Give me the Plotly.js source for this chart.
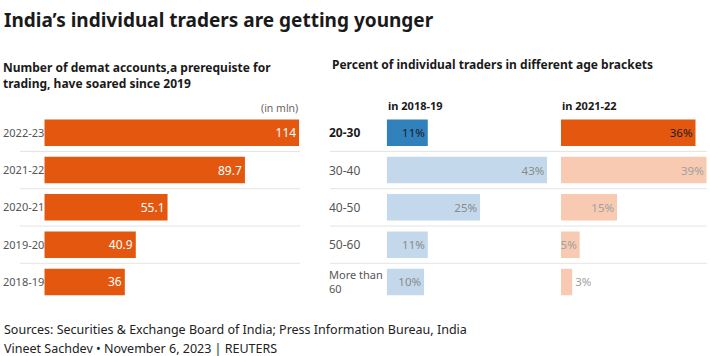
<!DOCTYPE html>
<html>
<head>
<meta charset="utf-8">
<script src="https://cdn.plot.ly/plotly-3.0.1.min.js"></script>
<style>
  html, body { margin: 0; padding: 0; background: #fff; }
  #chart { width: 710px; height: 356px; }
</style>
</head>
<body>
<div id="chart"></div>
<script>
// ---- data ----
const years = ['2022-23', '2021-22', '2020-21', '2019-20', '2018-19'];
const accounts = [114, 89.7, 55.1, 40.9, 36];
const ageBrackets = ['20-30', '30-40', '40-50', '50-60', 'More than 60'];
const ageLabels = ['20-30', '30-40', '40-50', '50-60', 'More than<br>60'];
const pct2018 = [11, 43, 25, 11, 10];
const pct2022 = [36, 39, 15, 5, 3];
const colHeaders = ['in 2018-19', 'in 2021-22'];

// ---- style ----
const FONT = 'Noto Sans, Open Sans, sans-serif';
const W = 710, H = 356;
const px = v => v / W;
const py = v => 1 - v / H;
const ORANGE = '#e4570f', PEACH = '#f8cab2', BLUE = '#3181bd', LIGHTBLUE = '#c3d9eb';

const yDomain = [py(300.6), py(114.1)];

const traces = [
  {
    type: 'bar', orientation: 'h', x: accounts, y: years,
    xaxis: 'x', yaxis: 'y',
    marker: { color: ORANGE },
    texttemplate: '%{x}', textposition: 'inside', insidetextanchor: 'end',
    constraintext: 'none', textangle: 0,
    textfont: { family: FONT, size: 12, color: '#ffffff' },
    hoverinfo: 'skip'
  },
  {
    type: 'bar', orientation: 'h', x: pct2018, y: ageBrackets,
    xaxis: 'x2', yaxis: 'y2',
    marker: { color: pct2018.map((v, i) => i === 0 ? BLUE : LIGHTBLUE) },
    texttemplate: '%{x}%', textposition: 'inside', insidetextanchor: 'end',
    constraintext: 'none', textangle: 0,
    textfont: { family: FONT, size: 11.5, color: pct2018.map((v, i) => i === 0 ? '#1c1c1c' : '#8a8a8a') },
    hoverinfo: 'skip'
  },
  {
    type: 'bar', orientation: 'h', x: pct2022, y: ageBrackets,
    xaxis: 'x3', yaxis: 'y2',
    marker: { color: pct2022.map((v, i) => i === 0 ? ORANGE : PEACH) },
    texttemplate: '%{x}%',
    textposition: pct2022.map((v, i) => i === pct2022.length - 1 ? 'outside' : 'inside'),
    insidetextanchor: 'end',
    constraintext: 'none', cliponaxis: false, textangle: 0,
    textfont: { family: FONT, size: 11.5, color: pct2022.map((v, i) => i === 0 ? '#1c1c1c' : '#a0a0a0') },
    hoverinfo: 'skip'
  }
];

const shapes = [];
for (let i = 0; i < years.length - 1; i++) {
  shapes.push({ type: 'line', xref: 'paper', yref: 'y', x0: px(20), x1: px(300), y0: i + 0.5, y1: i + 0.5,
    line: { color: '#e4e4e4', width: 1 }, layer: 'below' });
}
for (let i = 0; i < ageBrackets.length - 1; i++) {
  shapes.push({ type: 'line', xref: 'paper', yref: 'y2', x0: px(330), x1: px(707), y0: i + 0.5, y1: i + 0.5,
    line: { color: '#e4e4e4', width: 1 }, layer: 'below' });
}

const annotations = [
  { text: '<b>India’s individual traders are getting younger</b>', x: px(2), y: py(20), xanchor: 'left', yanchor: 'middle',
    font: { family: FONT, size: 19, color: '#1a1a1a' } },
  { text: '<b>Number of demat accounts,a prerequiste for<br>trading, have soared since 2019</b>', x: px(1), y: py(57), xanchor: 'left', yanchor: 'top', align: 'left',
    font: { family: FONT, size: 12, color: '#1a1a1a' } },
  { text: '(in mln)', x: px(300), y: py(108), xanchor: 'right', yanchor: 'middle',
    font: { family: FONT, size: 10.5, color: '#666' } },
  { text: '<b>Percent of individual traders in different age brackets</b>', x: px(330), y: py(64), xanchor: 'left', yanchor: 'middle',
    font: { family: FONT, size: 12, color: '#1a1a1a' } },
  { text: '<b>' + colHeaders[0] + '</b>', x: px(386), y: py(106), xanchor: 'left', yanchor: 'middle',
    font: { family: FONT, size: 11, color: '#1a1a1a' } },
  { text: '<b>' + colHeaders[1] + '</b>', x: px(560), y: py(106), xanchor: 'left', yanchor: 'middle',
    font: { family: FONT, size: 11, color: '#1a1a1a' } },
  { text: 'Sources: Securities &amp; Exchange Board of India; Press Information Bureau, India', x: px(2), y: py(329), xanchor: 'left', yanchor: 'middle',
    font: { family: FONT, size: 12.5, color: '#222' } },
  { text: 'Vineet Sachdev • November 6, 2023 | REUTERS', x: px(2), y: py(348), xanchor: 'left', yanchor: 'middle',
    font: { family: FONT, size: 12.5, color: '#222' } }
];
ageBrackets.forEach((cat, i) => {
  annotations.push({
    text: i === 0 ? '<b>' + ageLabels[i] + '</b>' : ageLabels[i],
    xref: 'paper', yref: 'y2', x: px(327), y: cat, xanchor: 'left', yanchor: 'middle', align: 'left',
    font: { family: FONT, size: i === ageBrackets.length - 1 ? 11 : 12, color: i === 0 ? '#1a1a1a' : '#555' }
  });
});
annotations.forEach(a => { a.showarrow = false; if (!a.xref) a.xref = 'paper'; if (!a.yref) a.yref = 'paper'; });

const layout = {
  width: W, height: H,
  margin: { l: 0, r: 0, t: 0, b: 0 },
  paper_bgcolor: '#fff', plot_bgcolor: 'rgba(0,0,0,0)',
  showlegend: false, bargap: 0.29,
  font: { family: FONT },
  xaxis: { domain: [px(44.3), px(299.3)], range: [0, 114], visible: false, fixedrange: true },
  yaxis: { domain: yDomain, anchor: 'x', type: 'category', range: [4.5, -0.5], showgrid: false, zeroline: false,
    showline: false, ticks: '', ticklabelstandoff: -1, tickfont: { family: FONT, size: 11, color: '#555' }, fixedrange: true },
  xaxis2: { domain: [px(386.7), px(547.3)], range: [0, 43], anchor: 'y2', visible: false, fixedrange: true },
  xaxis3: { domain: [px(561), px(706.7)], range: [0, 39], anchor: 'y2', visible: false, fixedrange: true },
  yaxis2: { domain: yDomain, anchor: 'x2', type: 'category', range: [4.5, -0.5], visible: false, fixedrange: true },
  shapes: shapes,
  annotations: annotations
};

Plotly.newPlot('chart', traces, layout, { staticPlot: true, displayModeBar: false });
</script>
</body>
</html>
